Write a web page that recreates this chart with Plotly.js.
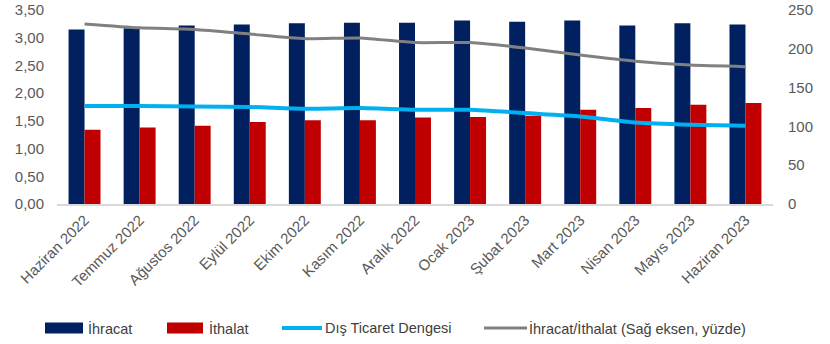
<!DOCTYPE html>
<html>
<head>
<meta charset="utf-8">
<script src="https://cdn.plot.ly/plotly-3.0.1.min.js"></script>
<style>html,body{margin:0;padding:0;background:#fff;}#chart{width:830px;height:344px;}</style>
</head>
<body>
<div id="chart"></div>
<script>
const categories = ["Haziran 2022","Temmuz 2022","Ağustos 2022","Eylül 2022","Ekim 2022","Kasım 2022","Aralık 2022","Ocak 2023","Şubat 2023","Mart 2023","Nisan 2023","Mayıs 2023","Haziran 2023"];
const ihracat = [3.15,3.17,3.22,3.24,3.26,3.27,3.27,3.31,3.29,3.31,3.22,3.26,3.24];
const ithalat = [1.34,1.38,1.41,1.48,1.51,1.51,1.56,1.57,1.59,1.70,1.73,1.79,1.82];
const denge = [1.77,1.77,1.76,1.75,1.72,1.73,1.70,1.70,1.64,1.58,1.47,1.43,1.41];
const oran = [232,227,225,219,213,214,208,208,201,192,184,179,177];
const leftTicks = [0,0.5,1,1.5,2,2.5,3,3.5];
const rightTicks = [0,50,100,150,200,250];
const seriesNames = ["İhracat","İthalat","Dış Ticaret Dengesi","İhracat/İthalat (Sağ eksen, yüzde)"];
const seriesColors = ["#002060","#C00000","#00B0F0","#808080"];

const W = 830, H = 344, ML = 57, MR = 57, MT = 10, MB = 140;
const PW = W - ML - MR, PH = H - MT - MB;
const px = v => (v - ML) / PW;
const py = v => (H - MB - v) / PH;

const font = "Liberation Sans, Arial, sans-serif";
const traces = [
  {type:'bar', name:seriesNames[0], x:categories, y:ihracat, marker:{color:seriesColors[0]}},
  {type:'bar', name:seriesNames[1], x:categories, y:ithalat, marker:{color:seriesColors[1]}},
  {type:'scatter', mode:'lines', name:seriesNames[2], x:categories, y:denge,
   line:{color:seriesColors[2], width:4, shape:'spline', smoothing:0.6}},
  {type:'scatter', mode:'lines', name:seriesNames[3], x:categories, y:oran, yaxis:'y2',
   line:{color:seriesColors[3], width:3, shape:'spline', smoothing:0.6}}
];

// custom legend (swatch geometry in pixels)
const legendItems = [
  {kind:'rect', x0:45, x1:83, tx:86},
  {kind:'rect', x0:167, x1:203, tx:207},
  {kind:'line', x0:282, x1:322, tx:323},
  {kind:'line', x0:484, x1:527, tx:527}
];
const legY = 328;
const shapes = [], annotations = [];
legendItems.forEach((it, i) => {
  if (it.kind === 'rect') {
    shapes.push({type:'rect', xref:'paper', yref:'paper', x0:px(it.x0), x1:px(it.x1),
      y0:py(legY+5.5), y1:py(legY-5.5), fillcolor:seriesColors[i], line:{width:0}});
  } else {
    shapes.push({type:'line', xref:'paper', yref:'paper', x0:px(it.x0), x1:px(it.x1),
      y0:py(legY), y1:py(legY), line:{color:seriesColors[i], width:i===2?4:3}});
  }
  annotations.push({xref:'paper', yref:'paper', x:px(it.tx), y:py(legY), xanchor:'left', yanchor:'middle',
    text:seriesNames[i], showarrow:false, font:{family:font, size:14.5, color:'#404040'}});
});

const layout = {
  width:W, height:H,
  margin:{l:ML, r:MR, t:MT, b:MB},
  paper_bgcolor:'#fff', plot_bgcolor:'#fff',
  separators:',.',
  font:{family:font, size:14, color:'#595959'},
  barmode:'group', bargap:0.42, bargroupgap:0,
  showlegend:false,
  shapes:shapes, annotations:annotations,
  xaxis:{tickangle:-45, showgrid:false, showline:true, linecolor:'#D9D9D9', linewidth:1.5,
         ticks:'', automargin:false, tickfont:{family:font, size:15, color:'#595959'}},
  yaxis:{range:[0,3.5], tickvals:leftTicks, tickformat:'.2f', showgrid:false, zeroline:false, automargin:false,
         showline:false, ticks:'', ticklabelstandoff:12, tickfont:{family:font, size:15, color:'#595959'}},
  yaxis2:{range:[0,250], tickvals:rightTicks, overlaying:'y', side:'right', showgrid:false, automargin:false,
          zeroline:false, showline:false, ticks:'', ticklabelstandoff:14, tickfont:{family:font, size:15, color:'#595959'}}
};
Plotly.newPlot('chart', traces, layout, {displayModeBar:false, staticPlot:true});
</script>
</body>
</html>
